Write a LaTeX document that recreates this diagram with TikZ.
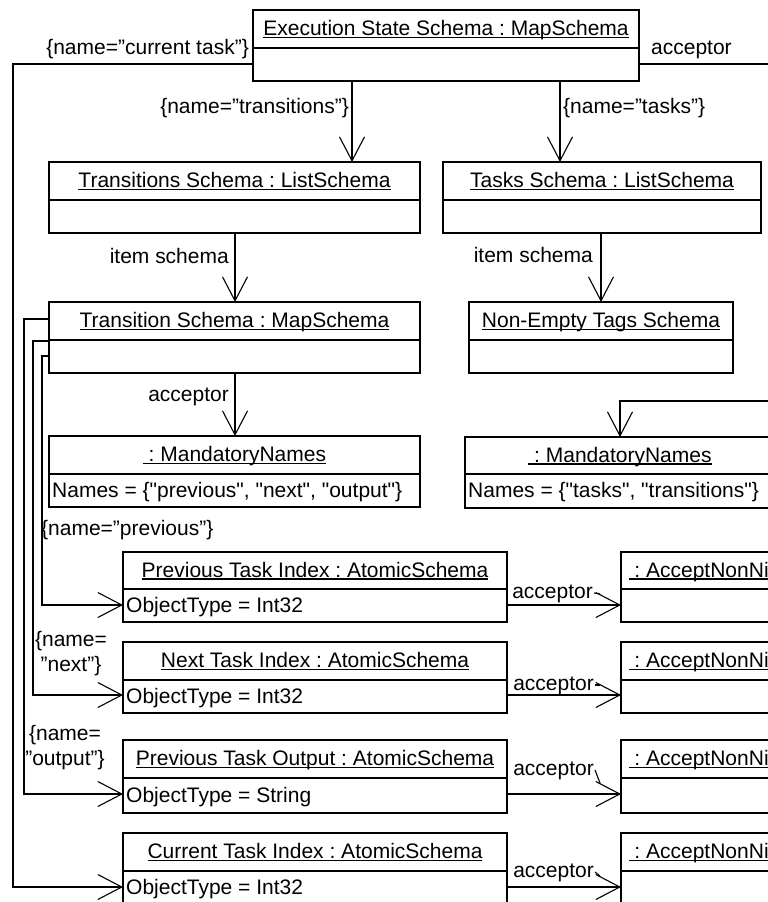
\documentclass[tikz,border=0pt]{standalone}
\usepackage{fontspec}
\setmainfont{Liberation Sans}
\usetikzlibrary{arrows.meta,fit}
\frenchspacing

% underlined object name, rule close to the baseline
\newcommand{\hdrul}[1]{\setbox0=\hbox{#1}\rlap{\rule[-2.6pt]{\wd0}{1.2pt}}\box0}
\newcommand{\q}{\textquotedbl}

\tikzset{
  box/.style={draw, line width=1.8pt, inner sep=0pt, outer sep=0pt},
  sep/.style={line width=1.8pt},
  conn/.style={line width=1.1pt},
  arr/.style={conn, -{Straight Barb[length=24pt,width=25pt,line width=1.1pt]}},
  lbl/.style={inner sep=0pt, font=\fontsize{21}{25}\selectfont},
}

% #1 name, #2 left, #3 top, #4 divider, #5 bottom, #6 right, #7 header, #8 attribute
\newcommand{\umlbox}[8]{%
  \node[box, fit={(#2,#3) (#6,#5)}] (#1) {};
  \draw[sep] (#2,#4) -- (#6,#4);
  \node[lbl, anchor=base] (#1-h) at ({(#2+#6)/2},{(#3+#4)/2+6.5}) {\hdrul{#7}};
  \node[lbl, anchor=base west] (#1-a) at ({#2+3},{(#4+#5)/2+6.5}) {#8};
}

\begin{document}
\begin{tikzpicture}[x=1pt,y=-1pt]
\useasboundingbox (0,0) rectangle (768,902);
\clip (0,0) rectangle (768,902);

% objects
\umlbox{exec}{253}{10}{48}{81}{639}{Execution State Schema : MapSchema}{}
\umlbox{trs}{49}{162}{200}{233}{420}{Transitions Schema : ListSchema}{}
\umlbox{tasks}{443}{162}{200}{233}{761}{Tasks Schema : ListSchema}{}
\umlbox{tr}{49}{302}{340}{373}{420}{Transition Schema : MapSchema}{}
\umlbox{tags}{469}{302}{340}{373}{733}{Non-Empty Tags Schema}{}
\umlbox{mnL}{49}{436}{474}{507}{420}{\ : MandatoryNames}{Names = \{\q previous\q, \q next\q, \q output\q\}}
\umlbox{mnR}{465}{437}{474}{508}{775}{\ : MandatoryNames}{Names = \{\q tasks\q, \q transitions\q\}}
\umlbox{prevIdx}{123}{552}{589}{622}{507}{Previous Task Index : AtomicSchema}{ObjectType = Int32}
\umlbox{nextIdx}{123}{642}{680}{713}{507}{Next Task Index : AtomicSchema}{ObjectType = Int32}
\umlbox{prevOut}{123}{740}{778}{813}{507}{Previous Task Output : AtomicSchema}{ObjectType = String}
\umlbox{curIdx}{123}{833}{871}{904}{507}{Current Task Index : AtomicSchema}{ObjectType = Int32}
\umlbox{ann1}{621}{552}{589}{622}{781}{\ : AcceptNonNil}{}
\umlbox{ann2}{621}{642}{680}{713}{781}{\ : AcceptNonNil}{}
\umlbox{ann3}{621}{740}{778}{813}{781}{\ : AcceptNonNil}{}
\umlbox{ann4}{621}{833}{871}{904}{781}{\ : AcceptNonNil}{}

% links from the execution state schema
\draw[arr] (352,0 |- exec.south) -- (352,0 |- trs.north);
\draw[arr] (560,0 |- exec.south) -- (560,0 |- tasks.north);
\draw[arr] (exec.west |- 0,64) -- (13,64) -- (13,887) -- (curIdx.west |- 0,887);
\draw[arr] (exec.east |- 0,64) -- (790,64) -- (790,401) -- (620,401) -- (620,0 |- mnR.north);

% item schemas
\draw[arr] (235,0 |- trs.south) -- (235,0 |- tr.north);
\draw[arr] (601,0 |- tasks.south) -- (601,0 |- tags.north);
\draw[arr] (235,0 |- tr.south) -- (235,0 |- mnL.north);

% fields of a transition
\draw[arr] (tr.west |- 0,356) -- (42,356) -- (42,605) -- (prevIdx.west |- 0,605);
\draw[arr] (tr.west |- 0,341) -- (33,341) -- (33,695) -- (nextIdx.west |- 0,695);
\draw[arr] (tr.west |- 0,319) -- (24,319) -- (24,794) -- (prevOut.west |- 0,794);

% acceptors of the atomic schemas
\draw[arr] (prevIdx.east |- 0,605) -- (ann1.west |- 0,605);
\draw[arr] (nextIdx.east |- 0,695) -- (ann2.west |- 0,695);
\draw[arr] (prevOut.east |- 0,794) -- (ann3.west |- 0,794);
\draw[arr] (curIdx.east |- 0,887) -- (ann4.west |- 0,887);

% labels
\node[lbl, anchor=base east] (l-cur) at (249,54) {\{name=”current task”\}};
\node[lbl, anchor=base west] (l-acc0) at (651,54) {acceptor};
\node[lbl, anchor=base east] (l-trs) at (349,113) {\{name=”transitions”\}};
\node[lbl, anchor=base west] (l-tasks) at (563,113) {\{name=”tasks”\}};
\node[lbl, anchor=base east] (l-item1) at (229,263) {item schema};
\node[lbl, anchor=base east] (l-item2) at (593,262) {item schema};
\node[lbl, anchor=base east] (l-acc1) at (229,401) {acceptor};
\node[lbl, anchor=base west] (l-prev) at (41,535) {\{name=”previous”\}};
\node[lbl, anchor=base] (l-next1) at (71,646) {\{name=};
\node[lbl, anchor=base] (l-next2) at (71,671) {”next”\}};
\node[lbl, anchor=base] (l-out1) at (65,740) {\{name=};
\node[lbl, anchor=base] (l-out2) at (65,765) {”output”\}};
\node[lbl, anchor=base east] (l-acc2) at (593,598) {acceptor};
\node[lbl, anchor=base east] (l-acc3) at (594,690) {acceptor};
\node[lbl, anchor=base east] (l-acc4) at (594,775) {acceptor};
\node[lbl, anchor=base east] (l-acc5) at (594,877) {acceptor};

% label leaders
\draw[conn] ([shift={(1,-5)}]l-acc2.base east) -- (600,594);
\draw[conn] ([shift={(1,-5)}]l-acc3.base east) -- (600,685);
\draw[conn] ([shift={(1,-5)}]l-acc4.base east) -- (600,783);
\draw[conn] ([shift={(1,-5)}]l-acc5.base east) -- (600,876);
\end{tikzpicture}
\end{document}
